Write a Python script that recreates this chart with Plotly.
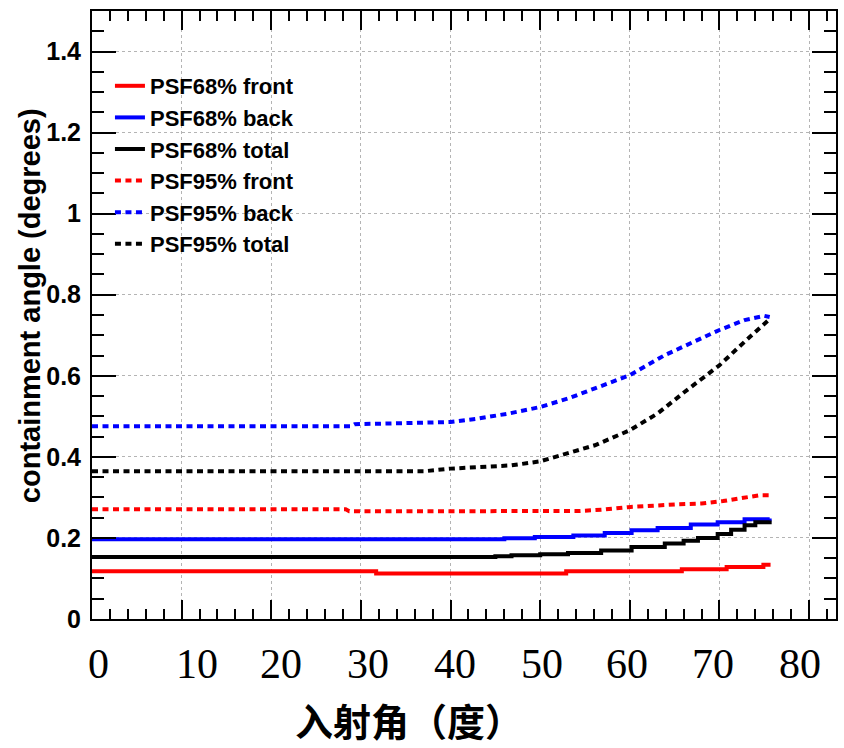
import plotly.graph_objects as go

# ---- data: containment angle vs incidence angle ----
# PSF68 (solid, step histograms)
x68_front = [0, 31.7, 52.9, 65.8, 70.8, 74.9, 75.7]
y68_front = [0.1175, 0.112, 0.1175, 0.123, 0.128, 0.134, 0.134]

x68_back = [0, 46.0, 49.4, 53.7, 57.2, 60.2, 63.1, 66.8, 69.8, 72.8, 75.6]
y68_back = [0.1965, 0.199, 0.202, 0.206, 0.212, 0.219, 0.2245, 0.233, 0.239, 0.246, 0.248]

x68_total = [0, 45.0, 46.8, 50.0, 53.1, 56.8, 60.2, 63.9, 66.0, 67.6, 69.8, 71.3, 72.8, 74.0, 75.6]
y68_total = [0.153, 0.155, 0.157, 0.160, 0.163, 0.169, 0.1775, 0.186, 0.193, 0.200, 0.210, 0.220, 0.231, 0.239, 0.243]

# PSF95 (dotted)
x95_front = [0, 28.3, 28.7, 43.1, 54.3, 57.0, 59.8, 65.4, 68.0, 70.4, 72.4, 74.4, 75.6]
y95_front = [0.2706, 0.2706, 0.2657, 0.267, 0.2664, 0.270, 0.276, 0.283, 0.285, 0.291, 0.2986, 0.305, 0.305]

x95_back = [0, 28.9, 29.3, 36.0, 40.0, 43.1, 46.5, 50.0, 53.1, 56.1, 60.0, 63.9, 67.2, 70.0, 72.8, 75.0, 75.6]
y95_back = [0.4756, 0.4756, 0.4805, 0.4837, 0.486, 0.4946, 0.507, 0.523, 0.544, 0.569, 0.6015, 0.651, 0.684, 0.713, 0.7375, 0.748, 0.745]

x95_total = [0, 37.0, 40.0, 43.1, 46.8, 50.0, 53.1, 56.1, 60.0, 63.1, 66.1, 70.0, 72.8, 75.6]
y95_total = [0.3644, 0.3644, 0.371, 0.375, 0.379, 0.389, 0.408, 0.4286, 0.4657, 0.507, 0.560, 0.626, 0.684, 0.740]

x_tick_labels = ["0", "10", "20", "30", "40", "50", "60", "70", "80"]

SANS = "Liberation Sans, Arial, sans-serif"
RED, BLUE, BLACK = "#ff0000", "#0000ff", "#000000"
DOTS = "6px,4.5px"

fig = go.Figure()

series = [
    ("PSF68% front", x68_front, y68_front, RED, "solid", "hv"),
    ("PSF68% back", x68_back, y68_back, BLUE, "solid", "hv"),
    ("PSF68% total", x68_total, y68_total, BLACK, "solid", "hv"),
    ("PSF95% front", x95_front, y95_front, RED, DOTS, "linear"),
    ("PSF95% back", x95_back, y95_back, BLUE, DOTS, "linear"),
    ("PSF95% total", x95_total, y95_total, BLACK, DOTS, "linear"),
]
for name, xs, ys, color, dash, shape in series:
    fig.add_trace(go.Scatter(
        x=xs, y=ys, mode="lines", name=name,
        line=dict(color=color, width=4, dash=dash, shape=shape),
    ))

W, H = 844, 748
ML, MR, MT, MB = 92, 6, 11, 129
PW, PH = W - ML - MR, H - MT - MB


def px_x(p):
    return (p - ML) / PW


def px_y(p):
    return (H - MB - p) / PH


axis_common = dict(
    showline=True, linewidth=2, linecolor="black", mirror="allticks",
    ticks="inside", tickwidth=2, tickcolor="black",
    showgrid=True, gridcolor="#b4b4b4", griddash="dot", gridwidth=1,
    zeroline=False,
    tickfont=dict(family=SANS, size=25, color="black", weight="bold"),
)

fig.update_xaxes(
    range=[0, 83], tick0=0, dtick=10, ticklen=19, showticklabels=False,
    minor=dict(dtick=2, ticklen=10, ticks="inside", tickwidth=2, tickcolor="black", showgrid=False),
    **axis_common,
)
fig.update_yaxes(
    range=[0, 1.5], tick0=0, dtick=0.2, ticklen=24,
    minor=dict(dtick=0.05, ticklen=12, ticks="inside", tickwidth=2, tickcolor="black", showgrid=False),
    ticklabelstandoff=4,
    **axis_common,
)

# y-axis title
fig.add_annotation(text="containment angle (degrees)", xref="paper", yref="paper",
                   x=px_x(30), y=px_y(306), textangle=-90,
                   xanchor="center", yanchor="middle", showarrow=False,
                   font=dict(family=SANS, size=29, color="black", weight="bold"))

# serif scale under the frame
label_px = [99, 197.5, 282, 368.5, 455.5, 543, 628, 715, 802]
for txt, p in zip(x_tick_labels, label_px):
    fig.add_annotation(text=txt, xref="paper", yref="paper", x=px_x(p), y=px_y(664),
                       xanchor="center", yanchor="middle", showarrow=False,
                       font=dict(family="Liberation Serif, Times New Roman, serif", size=42, color="black"))

fig.add_annotation(text="入射角（度）", xref="paper", yref="paper", x=px_x(410), y=px_y(719),
                   xanchor="center", yanchor="middle", showarrow=False,
                   font=dict(family="Noto Sans CJK SC", size=38, color="black", weight="bold"))

fig.update_layout(
    width=W, height=H, autosize=False,
    margin=dict(l=ML, r=MR, t=MT, b=MB),
    paper_bgcolor="white", plot_bgcolor="white",
    showlegend=True,
    legend=dict(x=px_x(110), y=px_y(65), xanchor="left", yanchor="top",
                bgcolor="rgba(0,0,0,0)", borderwidth=0, itemwidth=30,
                font=dict(family=SANS, size=22, color="black", weight="bold")),
)

fig.write_html("out.html")
